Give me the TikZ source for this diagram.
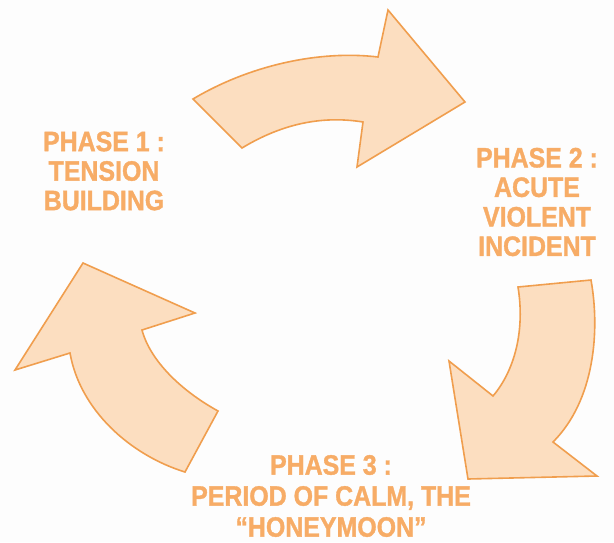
\documentclass[tikz,border=0pt]{standalone}
\usepackage{fontspec}
\setmainfont{Liberation Sans}
\newfontfamily\phasefont[FakeStretch=0.89, FakeBold=1.2, Ligatures=TeX, UprightFont={* Bold}]{Liberation Sans}
\usepackage{tikz}
\usetikzlibrary{positioning}
\definecolor{phasetext}{RGB}{247,172,102}
\definecolor{arrowfill}{RGB}{252,222,192}
\definecolor{arrowline}{RGB}{240,158,78}
\definecolor{paper}{RGB}{253,253,253}

\begin{document}
\begin{tikzpicture}[
  x=1pt, y=-1pt,
  phase/.style={align=center, text=phasetext, font=\phasefont\fontsize{28}{29.5}\selectfont, inner sep=0pt},
  bigarrow/.style={fill=arrowfill, draw=arrowline, line width=1.6pt, line join=miter}
]
  \fill[paper] (0,0) rectangle (614,542);
  \useasboundingbox (0,0) rectangle (614,542);

  % phase labels
  \node[phase] (phaseone) at (104,171) {PHASE 1 :\\TENSION\\BUILDING};
  \node[phase] (phasetwo) at (537,202) {PHASE 2 :\\ACUTE\\VIOLENT\\INCIDENT};
  \node[phase, font=\phasefont\fontsize{28}{31}\selectfont] (phasethree) at (331,496) {PHASE 3 :\\PERIOD OF CALM, THE\\“HONEYMOON”};

  % top arrow, phase 1 to phase 2
  \draw[bigarrow] (193,99) .. controls (250,65) and (320,50) .. (378,57)
    -- (388,10) -- (465,102) -- (357,167) -- (363,122)
    .. controls (320,115) and (280,125) .. (242,148) -- cycle;

  % right arrow, phase 2 to phase 3
  \draw[bigarrow] (518,287) -- (591,280)
    .. controls (600,330) and (595,400) .. (553,442)
    -- (597,476) -- (468,479) -- (449,361) -- (493,396)
    .. controls (515,370) and (525,330) .. (518,287) -- cycle;

  % left arrow, phase 3 to phase 1
  \draw[bigarrow] (185,472) -- (218,411)
    .. controls (180,390) and (150,360) .. (142,330)
    -- (195,313) -- (83,263) -- (15,370) -- (70,353)
    .. controls (80,410) and (130,455) .. (185,472) -- cycle;
\end{tikzpicture}
\end{document}
